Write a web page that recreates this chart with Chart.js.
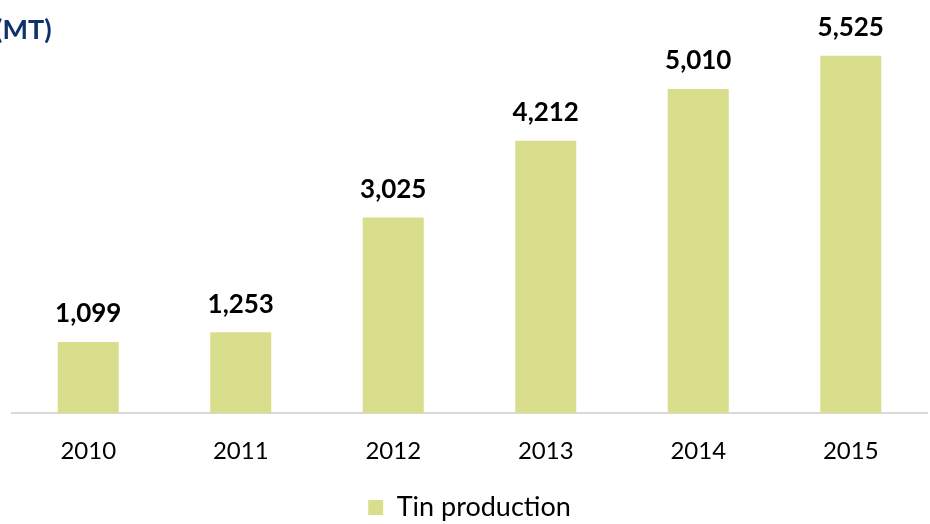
<!DOCTYPE html>
<html>
<head>
<meta charset="utf-8">
<script src="https://cdn.jsdelivr.net/npm/chart.js@4/dist/chart.umd.min.js"></script>
<style>
  html, body { margin: 0; padding: 0; background: #fff; }
  #wrap { width: 930px; height: 524px; position: relative; }
</style>
</head>
<body>
<div id="wrap"><canvas id="tinChart"></canvas></div>
<script>
const years = ['2010', '2011', '2012', '2013', '2014', '2015'];
const tinProduction = [1099, 1253, 3025, 4212, 5010, 5525];
const seriesName = 'Tin production';
const unitTitle = '(MT)';

const FONT = 'Lato, "Liberation Sans", sans-serif';

// value labels above each bar
const valueLabels = {
    id: 'valueLabels',
    afterDatasetsDraw(chart) {
        const ctx = chart.ctx;
        const meta = chart.getDatasetMeta(0);
        ctx.save();
        ctx.font = 'bold 26px ' + FONT;
        ctx.fillStyle = '#000';
        ctx.textAlign = 'center';
        ctx.textBaseline = 'middle';
        meta.data.forEach(function(bar, i) {
            ctx.fillText(tinProduction[i].toLocaleString('en-US'), bar.x, bar.y - 28);
        });
        ctx.restore();
    }
};

// unit title in the top-left corner
const unitLabel = {
    id: 'unitLabel',
    afterDraw(chart) {
        const ctx = chart.ctx;
        ctx.save();
        ctx.font = 'bold 27px ' + FONT;
        ctx.fillStyle = '#10316b';
        ctx.textAlign = 'left';
        ctx.textBaseline = 'middle';
        ctx.fillText(unitTitle, -5, 30);
        ctx.restore();
    }
};

new Chart(document.getElementById('tinChart'), {
    type: 'bar',
    data: {
        labels: years,
        datasets: [{
            label: seriesName,
            data: tinProduction,
            backgroundColor: '#d9de8c',
            barPercentage: 0.4,
            categoryPercentage: 1.0
        }]
    },
    options: {
        responsive: true,
        maintainAspectRatio: false,
        animation: false,
        layout: { padding: { left: 12, right: 3, top: 25, bottom: -7 } },
        scales: {
            x: {
                grid: { display: false },
                border: { display: true, color: '#d9d9d9', width: 2 },
                ticks: { color: '#000', font: { family: FONT, size: 24 }, padding: 16 }
            },
            y: {
                display: false,
                min: 0,
                max: 6000
            }
        },
        plugins: {
            legend: {
                position: 'bottom',
                labels: {
                    color: '#000',
                    font: { family: FONT, size: 27 },
                    boxWidth: 15,
                    boxHeight: 15,
                    padding: 12
                }
            },
            tooltip: { enabled: false }
        }
    },
    plugins: [valueLabels, unitLabel]
});
</script>
</body>
</html>
